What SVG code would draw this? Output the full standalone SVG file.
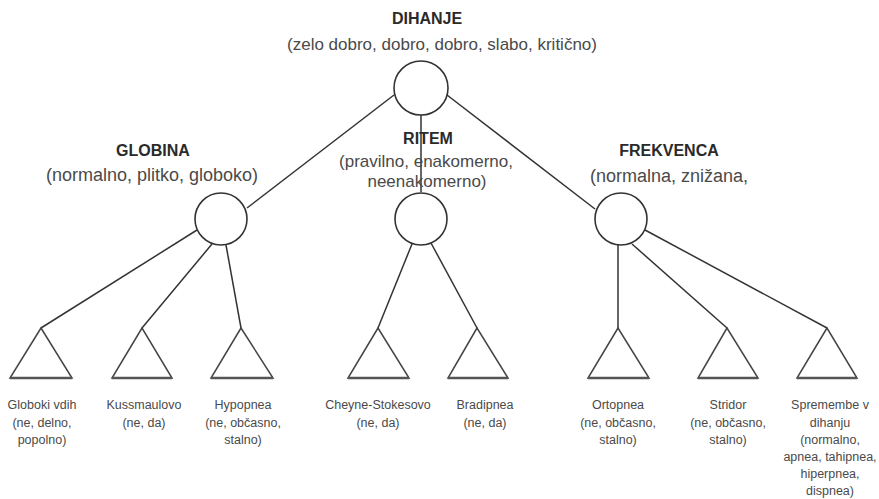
<svg xmlns="http://www.w3.org/2000/svg" width="879" height="499" viewBox="0 0 879 499">
  <style>
    .bg { fill: #ffffff; }
    .edge { stroke: #333333; stroke-width: 1.5; fill: none; }
    .circ { fill: #ffffff; stroke: #333333; stroke-width: 1.6; }
    .tri { fill: #ffffff; stroke: #444444; stroke-width: 1.5; stroke-linejoin: miter; }
    .base { stroke: #555555; stroke-width: 2.6; }
    .title { font-family: "Liberation Sans", Arial, sans-serif; font-weight: bold; font-size: 16px; fill: #2a2a2a; text-anchor: middle; }
    .sub { font-family: "Liberation Sans", Arial, sans-serif; font-size: 17px; fill: #4a4a4a; text-anchor: middle; }
    .leaf { font-family: "Liberation Sans", Arial, sans-serif; font-size: 12.5px; fill: #4a4a4a; text-anchor: middle; }
  </style>

  <rect class="bg" x="0" y="0" width="879" height="499"/>

  <!-- tree edges -->
  <g id="connectors">
    <line class="edge" x1="394" y1="95" x2="247" y2="208"/>
    <line class="edge" x1="421" y1="115" x2="421" y2="192"/>
    <line class="edge" x1="447" y1="95" x2="595" y2="209"/>

    <line class="edge" x1="197" y1="230" x2="41" y2="328"/>
    <line class="edge" x1="212" y1="244" x2="142" y2="328"/>
    <line class="edge" x1="226" y1="245" x2="241" y2="328"/>

    <line class="edge" x1="412" y1="244" x2="378" y2="328"/>
    <line class="edge" x1="431" y1="243" x2="477" y2="328"/>

    <line class="edge" x1="618" y1="245" x2="618" y2="328"/>
    <line class="edge" x1="632" y1="244" x2="727" y2="328"/>
    <line class="edge" x1="645" y1="230" x2="827" y2="328"/>
  </g>

  <!-- root -->
  <g id="dihanje">
    <text class="title" x="427" y="24">DIHANJE</text>
    <text class="sub" x="442" y="50">(zelo dobro, dobro, dobro, slabo, kritično)</text>
    <circle class="circ" cx="421" cy="88" r="27"/>
  </g>

  <!-- second level -->
  <g id="globina">
    <text class="title" x="153" y="156">GLOBINA</text>
    <text class="sub" x="152" y="181" style="font-size:18px">(normalno, plitko, globoko)</text>
    <circle class="circ" cx="221" cy="219" r="26"/>
  </g>

  <g id="ritem">
    <text class="title" x="428" y="144">RITEM</text>
    <text class="sub" x="426" y="167">(pravilno, enakomerno,</text>
    <text class="sub" x="427" y="187">neenakomerno)</text>
    <circle class="circ" cx="421" cy="219" r="26"/>
  </g>

  <g id="frekvenca">
    <text class="title" x="669" y="156">FREKVENCA</text>
    <text class="sub" x="669" y="182" style="font-size:18px">(normalna, znižana,</text>
    <circle class="circ" cx="621" cy="219" r="26"/>
  </g>

  <!-- leaves -->
  <g id="globoki-vdih">
    <polygon class="tri" points="41,328 10,378 72,378"/>
    <line class="base" x1="10" y1="378" x2="72" y2="378"/>
    <text class="leaf" x="42" y="409">Globoki vdih</text>
    <text class="leaf" x="42" y="426.5">(ne, delno,</text>
    <text class="leaf" x="42" y="444">popolno)</text>
  </g>

  <g id="kussmaulovo">
    <polygon class="tri" points="142,328 112,378 172,378"/>
    <line class="base" x1="112" y1="378" x2="172" y2="378"/>
    <text class="leaf" x="144" y="409">Kussmaulovo</text>
    <text class="leaf" x="144" y="426.5">(ne, da)</text>
  </g>

  <g id="hypopnea">
    <polygon class="tri" points="241,328 211,378 273,378"/>
    <line class="base" x1="211" y1="378" x2="273" y2="378"/>
    <text class="leaf" x="243" y="409">Hypopnea</text>
    <text class="leaf" x="243" y="426.5">(ne, občasno,</text>
    <text class="leaf" x="243" y="444">stalno)</text>
  </g>

  <g id="cheyne-stokesovo">
    <polygon class="tri" points="378,328 348,378 409,378"/>
    <line class="base" x1="348" y1="378" x2="409" y2="378"/>
    <text class="leaf" x="378" y="409">Cheyne-Stokesovo</text>
    <text class="leaf" x="378" y="426.5">(ne, da)</text>
  </g>

  <g id="bradipnea">
    <polygon class="tri" points="477,328 448,378 508,378"/>
    <line class="base" x1="448" y1="378" x2="508" y2="378"/>
    <text class="leaf" x="485" y="409">Bradipnea</text>
    <text class="leaf" x="485" y="426.5">(ne, da)</text>
  </g>

  <g id="ortopnea">
    <polygon class="tri" points="618,328 588,378 649,378"/>
    <line class="base" x1="588" y1="378" x2="649" y2="378"/>
    <text class="leaf" x="618" y="409">Ortopnea</text>
    <text class="leaf" x="618" y="426.5">(ne, občasno,</text>
    <text class="leaf" x="618" y="444">stalno)</text>
  </g>

  <g id="stridor">
    <polygon class="tri" points="727,328 698,378 758,378"/>
    <line class="base" x1="698" y1="378" x2="758" y2="378"/>
    <text class="leaf" x="728" y="409">Stridor</text>
    <text class="leaf" x="728" y="426.5">(ne, občasno,</text>
    <text class="leaf" x="728" y="444">stalno)</text>
  </g>

  <g id="spremembe">
    <polygon class="tri" points="827,328 797,378 857,378"/>
    <line class="base" x1="797" y1="378" x2="857" y2="378"/>
    <text class="leaf" x="830" y="409">Spremembe v</text>
    <text class="leaf" x="830" y="426.5">dihanju</text>
    <text class="leaf" x="830" y="444">(normalno,</text>
    <text class="leaf" x="830" y="461">apnea, tahipnea,</text>
    <text class="leaf" x="830" y="478">hiperpnea,</text>
    <text class="leaf" x="830" y="495">dispnea)</text>
  </g>
</svg>
